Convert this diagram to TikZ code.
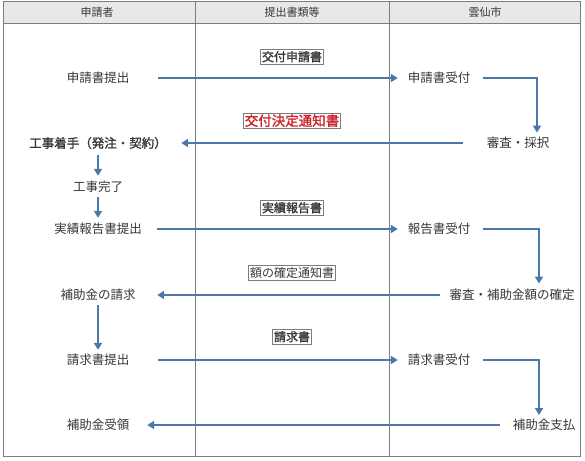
\documentclass[tikz,border=0pt]{standalone}
\usepackage{fontspec}
\newfontfamily\jp{Noto Sans CJK JP}
\newfontfamily\jpb[FakeBold=1.5]{Noto Sans CJK JP}
\usetikzlibrary{arrows.meta}
\definecolor{arrowblue}{RGB}{74,120,170}
\definecolor{txt}{RGB}{55,55,55}
\definecolor{rulegray}{RGB}{125,125,125}
\definecolor{headfill}{RGB}{232,232,232}
\definecolor{redlab}{RGB}{205,35,40}
\begin{document}
\begin{tikzpicture}[x=1pt,y=-1pt,
  lbl/.style={font=\jp\fontsize{12.5}{14}\selectfont, text=txt, inner sep=0pt, text height=11pt, text depth=1.5pt},
  lblb/.style={lbl, font=\jpb\fontsize{12.5}{14}\selectfont},
  doc/.style={draw=rulegray, line width=0.6pt, fill=white, inner sep=1.5pt, text=txt, text height=10pt, text depth=1.5pt, font=\jp\fontsize{12}{14}\selectfont},
  docb/.style={doc, font=\jpb\fontsize{12}{14}\selectfont},
  head/.style={font=\jp\fontsize{11}{13}\selectfont, text=txt, inner sep=0pt},
  arr/.style={draw=arrowblue, line width=2.4pt, -{Triangle[length=7pt,width=8pt]}},
  tbl/.style={draw=rulegray, line width=0.8pt}
]
\useasboundingbox (0,0) rectangle (585,460);
\fill[white] (0,0) rectangle (585,460);
% table
\fill[headfill] (3,1) rectangle (580,23);
\draw[tbl] (3,23) -- (580,23);
\draw[tbl] (195,1) -- (195,456);
\draw[tbl] (389,1) -- (389,456);
\draw[tbl] (3,1) rectangle (580,456);
% headers
\node[head] (h1) at (97,12) {申請者};
\node[head] (h2) at (292,12) {提出書類等};
\node[head] (h3) at (485,12) {雲仙市};
% left column
\node[lbl]  (a1) at (98,78)  {申請書提出};
\node[lblb] (a2) at (98,143) {工事着手（発注・契約）};
\node[lbl]  (a3) at (98,187) {工事完了};
\node[lbl]  (a4) at (98,229) {実績報告書提出};
\node[lbl]  (a5) at (98,295) {補助金の請求};
\node[lbl]  (a6) at (98,360) {請求書提出};
\node[lbl]  (a7) at (98,425) {補助金受領};
% right column
\node[lbl] (b1) at (439,78)  {申請書受付};
\node[lbl] (b2) at (518,143) {審査・採択};
\node[lbl] (b3) at (439,229) {報告書受付};
\node[lbl] (b4) at (512,295) {審査・補助金額の確定};
\node[lbl] (b5) at (439,360) {請求書受付};
\node[lbl] (b6) at (544,425) {補助金支払};
% documents
\node[docb] (d1) at (292,57)  {交付申請書};
\node[docb, text=redlab, font=\jpb\fontsize{13.5}{15}\selectfont, text height=11pt] (d2) at (292,121) {交付決定通知書};
\node[docb] (d3) at (292,208) {実績報告書};
\node[doc]  (d4) at (292,273) {額の確定通知書};
\node[docb] (d5) at (292,337) {請求書};
% arrows
\draw[arr, shorten <=28.75pt, shorten >=9.75pt] (a1.east) -- (b1.west);
\draw[arr] ([xshift=12.75pt]b1.east) -| ([xshift=19pt,yshift=4pt]b2.north);
\draw[arr, shorten <=23.75pt, shorten >=14.25pt] (b2.west) -- (a2.east);
\draw[arr, shorten <=6pt, shorten >=4.75pt] (a2.south) -- (a3.north);
\draw[arr, shorten <=3.75pt, shorten >=4.75pt] (a3.south) -- (a4.north);
\draw[arr, shorten <=15pt, shorten >=9.75pt] (a4.east) -- (b3.west);
\draw[arr] ([xshift=12.75pt]b3.east) -| ([xshift=27pt,yshift=5pt]b4.north);
\draw[arr, shorten <=9.5pt, shorten >=21.5pt] (b4.west) -- (a5.east);
\draw[arr, shorten <=4pt, shorten >=3.75pt] (a5.south) -- (a6.north);
\draw[arr, shorten <=28.75pt, shorten >=9.75pt] (a6.east) -- (b5.west);
\draw[arr] ([xshift=12.75pt]b5.east) -| ([xshift=-5pt,yshift=3.5pt]b6.north);
\draw[arr, shorten <=12.75pt, shorten >=17.75pt] (b6.west) -- (a7.east);
\end{tikzpicture}
\end{document}
